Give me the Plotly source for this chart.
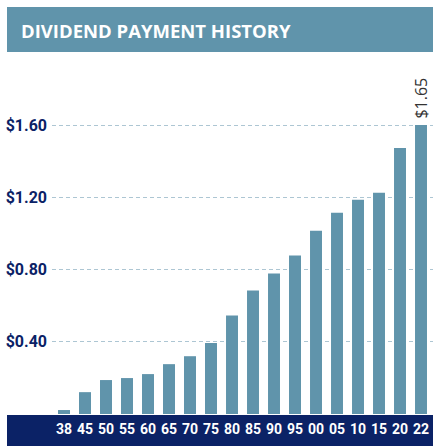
import plotly.graph_objects as go

years = ["38", "45", "50", "55", "60", "65", "70", "75", "80", "85",
         "90", "95", "00", "05", "10", "15", "20", "22"]
dividends = [0.022, 0.121, 0.188, 0.199, 0.221, 0.276, 0.320, 0.393, 0.546, 0.684,
             0.778, 0.877, 1.015, 1.114, 1.186, 1.225, 1.473, 1.60]
y_ticks = [0.40, 0.80, 1.20, 1.60]
y_tick_labels = ["$0.40", "$0.80", "$1.20", "$1.60"]
last_label = "$1.65"
title_text = "DIVIDEND PAYMENT HISTORY"

W, H = 433, 446
L, R, T, B = 52, 0, 60, 32
pw, ph = W - L - R, H - T - B

def px_x(p):
    return (p - L) / pw

def px_y(p):
    return (H - B - p) / ph

BAR = "#6094ab"
NAVY = "#0b2266"
COND = "Roboto, sans-serif"

fig = go.Figure()
fig.add_trace(go.Bar(x=list(range(len(years))), y=dividends, marker_color=BAR,
                     marker_line_width=0, width=0.57, hoverinfo="skip"))

# title banner
fig.add_shape(type="rect", xref="paper", yref="paper",
              x0=px_x(7), x1=px_x(433), y0=px_y(52), y1=px_y(7),
              fillcolor=BAR, line_width=0, layer="below")
# navy band at bottom
fig.add_shape(type="rect", xref="paper", yref="paper",
              x0=px_x(7), x1=px_x(433), y0=px_y(446), y1=px_y(415),
              fillcolor=NAVY, line_width=0, layer="below")

fig.add_annotation(xref="paper", yref="paper", x=px_x(19), y=px_y(30),
                   text=title_text, showarrow=False, xanchor="left", yanchor="middle",
                   font=dict(family="Open Sans", size=18.5, color="white", weight="bold"))

fig.add_annotation(x=len(years) - 1, y=dividends[-1], text=last_label, textangle=-90,
                   showarrow=False, xanchor="center", yanchor="bottom", yshift=4,
                   font=dict(family="Open Sans", size=16, color="#333333"))

px_per_cat = 21.0
x0 = -(64 - L) / px_per_cat
x1 = x0 + pw / px_per_cat
y_top = ph / 180.6

fig.update_layout(
    width=W, height=H, margin=dict(l=L, r=R, t=T, b=B),
    paper_bgcolor="white", plot_bgcolor="white", showlegend=False,
    bargap=0.43,
    xaxis=dict(range=[x0, x1], tickmode="array", tickvals=list(range(len(years))),
               ticktext=years, showgrid=False, zeroline=False, showline=False,
               ticks="", ticklabelstandoff=5,
               tickfont=dict(family=COND, size=14, color="white", weight="bold")),
    yaxis=dict(range=[0, y_top], tickmode="array", tickvals=y_ticks, ticktext=y_tick_labels,
               showgrid=True, gridcolor="#adc6d3", griddash="4px,3px", gridwidth=1.2,
               zeroline=False, showline=False, ticks="", ticklabelstandoff=4,
               tickfont=dict(family=COND, size=16, color=NAVY, weight="bold")),
)

fig.write_html("out.html", config={"displayModeBar": False},
               post_script="document.body.style.margin='0';document.body.style.overflow='hidden';")
